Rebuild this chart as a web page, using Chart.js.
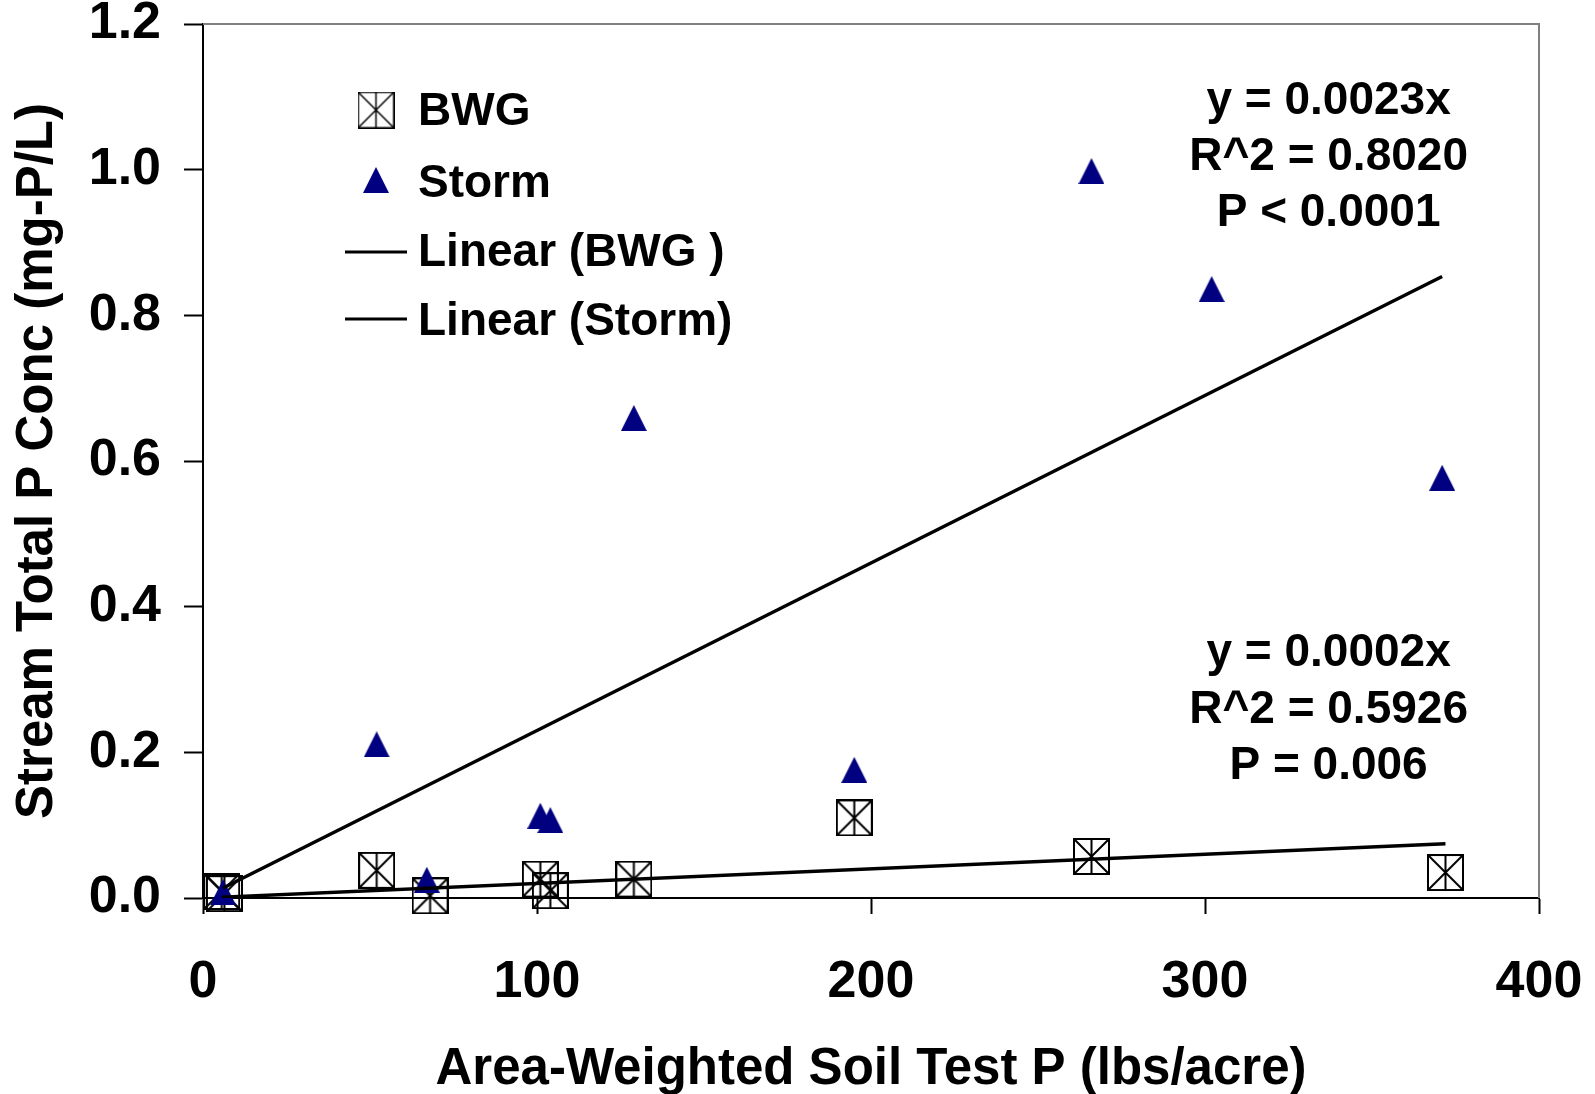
<!DOCTYPE html>
<html>
<head>
<meta charset="utf-8">
<script src="https://cdn.jsdelivr.net/npm/chart.js@4.4.1/dist/chart.umd.min.js"></script>
<style>
    html, body { margin: 0; padding: 0; background: #fff; }
    #wrap { width: 1595px; height: 1094px; }
</style>
</head>
<body>
<div id="wrap"><canvas id="tpChart" width="1595" height="1094"></canvas></div>
<script>
// Soil test P vs stream total P, baseflow (BWG) and storm samples
const bwgX = [5.6, 6.4, 52, 68, 101, 104, 129, 195, 266, 372];
const bwgY = [0.009, 0.006, 0.038, 0.003, 0.026, 0.010, 0.026, 0.110, 0.057, 0.035];
const stormX = [6, 52, 67, 101, 104, 129, 195, 266, 302, 371];
const stormY = [0.008, 0.211, 0.025, 0.113, 0.107, 0.659, 0.176, 0.998, 0.836, 0.577];

// regression slopes (fit through origin)
const stormSlope = 0.0023;
const bwgSlope = 0.0002;

const legendLabels = ['BWG', 'Storm', 'Linear (BWG )', 'Linear (Storm)'];
const stormStats = ['y = 0.0023x', 'R^2 = 0.8020', 'P < 0.0001'];
const bwgStats = ['y = 0.0002x', 'R^2 = 0.5926', 'P = 0.006'];

const xTicks = [0, 100, 200, 300, 400];
const yTicks = [0, 0.2, 0.4, 0.6, 0.8, 1.0, 1.2];

const FONT = '"Liberation Sans", Arial, sans-serif';

// box with asterisk marker
function makeBoxMarker(size, lw) {
    const c = document.createElement('canvas');
    c.width = size; c.height = size;
    const g = c.getContext('2d');
    const a = lw / 2, b = size - lw / 2, m = size / 2;
    g.strokeStyle = '#000';
    g.lineWidth = lw;
    g.strokeRect(a, a, b - a, b - a);
    g.beginPath();
    g.moveTo(a, a); g.lineTo(b, b);
    g.moveTo(b, a); g.lineTo(a, b);
    g.moveTo(m, a); g.lineTo(m, b);
    g.stroke();
    return c;
}

// filled navy triangle marker
function makeTriangle(size) {
    const c = document.createElement('canvas');
    c.width = size; c.height = size;
    const g = c.getContext('2d');
    g.fillStyle = '#000080';
    g.beginPath();
    g.moveTo(size / 2, 0);
    g.lineTo(size, size);
    g.lineTo(0, size);
    g.closePath();
    g.fill();
    return c;
}

const boxMarker = makeBoxMarker(37, 2);
const legendBox = makeBoxMarker(37, 1.5);
const triMarker = makeTriangle(26);

function toPoints(xs, ys) {
    return xs.map((x, i) => ({ x: x, y: ys[i] }));
}

function trendPoints(xs, slope) {
    const lo = Math.min(...xs), hi = Math.max(...xs);
    return [{ x: lo, y: slope * lo }, { x: hi, y: slope * hi }];
}

// gray frame on top and right of the plot
const framePlugin = {
    id: 'frame',
    beforeDatasetsDraw(chart) {
        const { ctx, chartArea: a } = chart;
        ctx.save();
        ctx.strokeStyle = '#808080';
        ctx.lineWidth = 2;
        ctx.beginPath();
        ctx.moveTo(a.left, a.top);
        ctx.lineTo(a.right, a.top);
        ctx.lineTo(a.right, a.bottom);
        ctx.stroke();
        ctx.restore();
    }
};

// legend inside the plot plus regression notes
const notesPlugin = {
    id: 'notes',
    afterDraw(chart) {
        const { ctx, chartArea: a } = chart;
        ctx.save();
        ctx.font = 'bold 46px ' + FONT;
        ctx.fillStyle = '#000';
        ctx.textBaseline = 'alphabetic';

        // legend
        const mx = a.left + 173, tx = a.left + 215;
        ctx.drawImage(legendBox, mx - 18.5, a.top + 86 - 18.5);
        ctx.drawImage(triMarker, mx - 13, a.top + 156 - 13);
        ctx.strokeStyle = '#000';
        ctx.lineWidth = 3;
        [228, 295].forEach(dy => {
            ctx.beginPath();
            ctx.moveTo(a.left + 142, a.top + dy);
            ctx.lineTo(a.left + 204, a.top + dy);
            ctx.stroke();
        });
        ctx.textAlign = 'left';
        [101, 173, 242, 311].forEach((dy, i) => ctx.fillText(legendLabels[i], tx, a.top + dy));

        // regression statistics
        ctx.textAlign = 'center';
        const cx = chart.scales.x.getPixelForValue(337);
        [90, 146, 202].forEach((dy, i) => ctx.fillText(stormStats[i], cx, a.top + dy));
        [642, 699, 755].forEach((dy, i) => ctx.fillText(bwgStats[i], cx, a.top + dy));
        ctx.restore();
    }
};

const ctx = document.getElementById('tpChart').getContext('2d');
const tpChart = new Chart(ctx, {
    type: 'scatter',
    data: {
        datasets: [
            {
                label: 'Linear (BWG )',
                data: trendPoints(bwgX, bwgSlope),
                showLine: true,
                borderColor: '#000',
                borderWidth: 3.5,
                pointRadius: 0,
                order: 0
            },
            {
                label: 'Linear (Storm)',
                data: trendPoints(stormX, stormSlope),
                showLine: true,
                borderColor: '#000',
                borderWidth: 3.5,
                pointRadius: 0,
                order: 0
            },
            {
                label: 'Storm',
                data: toPoints(stormX, stormY),
                pointStyle: triMarker,
                pointRadius: 14,
                clip: false,
                order: 1
            },
            {
                label: 'BWG',
                data: toPoints(bwgX, bwgY),
                pointStyle: boxMarker,
                pointRadius: 18,
                clip: false,
                order: 2
            }
        ]
    },
    options: {
        responsive: false,
        animation: false,
        devicePixelRatio: 1,
        layout: { padding: { left: 0, right: 56, top: 24, bottom: 0 } },
        plugins: {
            legend: { display: false },
            tooltip: { enabled: false }
        },
        scales: {
            x: {
                type: 'linear',
                min: 0,
                max: 400,
                afterBuildTicks: s => { s.ticks = xTicks.map(v => ({ value: v })); },
                afterFit: s => {
                    s.height = 196;
                    s.paddingLeft = 0;
                    s.paddingRight = 0;
                },
                ticks: {
                    color: '#000',
                    padding: 45,
                    maxRotation: 0,
                    font: { family: FONT, size: 52, weight: 'bold', lineHeight: 0.9 },
                    callback: v => String(v)
                },
                grid: { drawOnChartArea: false, drawTicks: true, tickLength: 16, tickWidth: 2, tickColor: '#000' },
                border: { display: true, color: '#000', width: 2 },
                title: {
                    display: true,
                    text: 'Area-Weighted Soil Test P (lbs/acre)',
                    color: '#000',
                    font: { family: FONT, size: 51, weight: 'bold', lineHeight: 0.8 },
                    padding: { top: 0, bottom: 4 }
                }
            },
            y: {
                type: 'linear',
                min: 0,
                max: 1.2,
                afterBuildTicks: s => { s.ticks = yTicks.map(v => ({ value: v })); },
                afterFit: s => {
                    s.width = 203;
                    s.paddingTop = 0;
                    s.paddingBottom = 0;
                },
                ticks: {
                    color: '#000',
                    padding: 23,
                    font: { family: FONT, size: 52, weight: 'bold', lineHeight: 0.9 },
                    callback: v => Number(v).toFixed(1)
                },
                grid: { drawOnChartArea: false, drawTicks: true, tickLength: 19, tickWidth: 2, tickColor: '#000' },
                border: { display: true, color: '#000', width: 2 },
                title: {
                    display: true,
                    text: 'Stream Total P Conc (mg-P/L)',
                    color: '#000',
                    font: { family: FONT, size: 51, weight: 'bold', lineHeight: 1 },
                    padding: { top: 12, bottom: 0 }
                }
            }
        }
    },
    plugins: [framePlugin, notesPlugin]
});
</script>
</body>
</html>
